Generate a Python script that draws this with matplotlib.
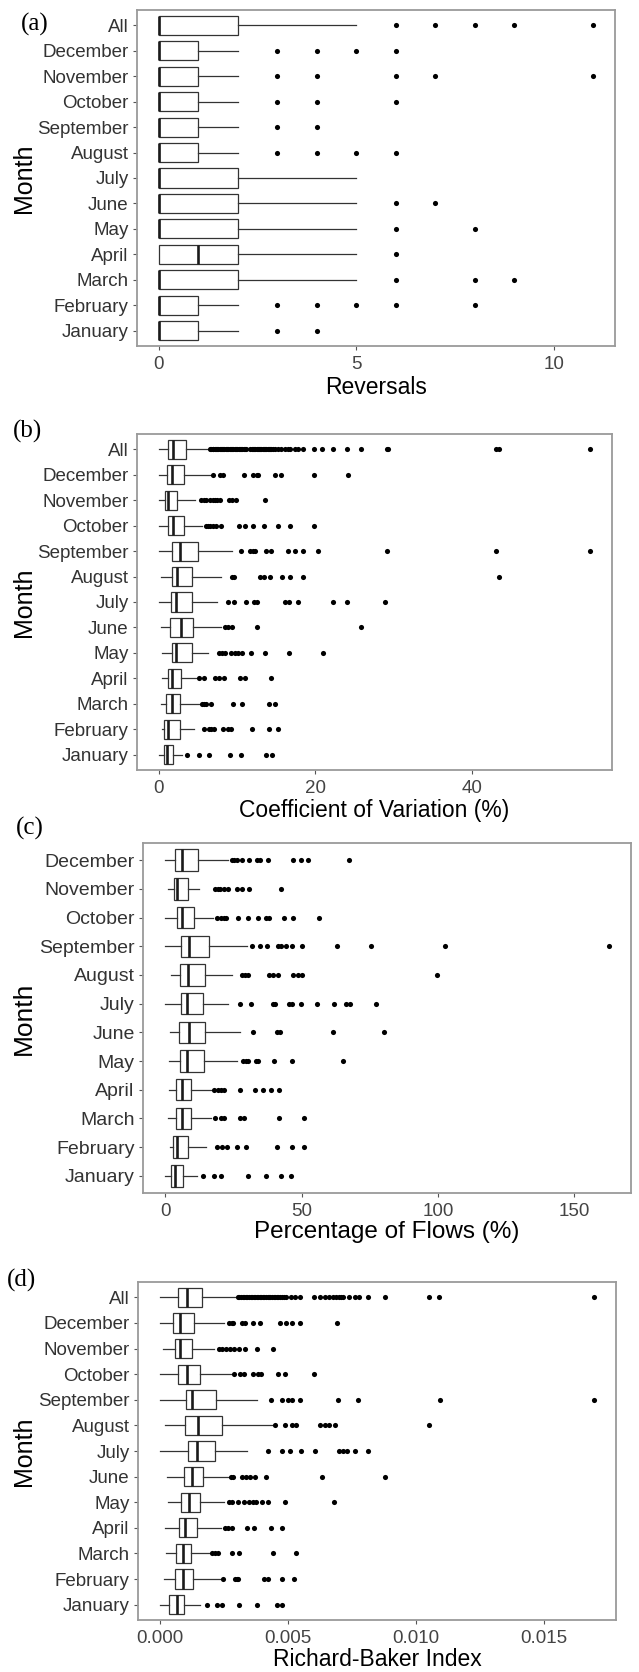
import matplotlib
matplotlib.use("Agg")
import matplotlib.pyplot as plt
import numpy as np

W, H = 639, 1672

months = ["All", "December", "November", "October", "September", "August",
          "July", "June", "May", "April", "March", "February", "January"]
months_c = months[1:]

# (a) Reversals
rev_lo = [0, 0, 0, 0, 0, 0, 0, 0, 0, 0, 0, 0, 0]
rev_q1 = [0, 0, 0, 0, 0, 0, 0, 0, 0, 0, 0, 0, 0]
rev_med = [0, 0, 0, 0, 0, 0, 0, 0, 0, 1, 0, 0, 0]
rev_q3 = [2, 1, 1, 1, 1, 1, 2, 2, 2, 2, 2, 1, 1]
rev_hi = [5, 2, 2, 2, 2, 2, 5, 5, 5, 5, 5, 2, 2]
rev_out = [[6, 7, 8, 9, 11], [3, 4, 5, 6], [3, 4, 6, 7, 11], [3, 4, 6], [3, 4],
           [3, 4, 5, 6], [], [6, 7], [6, 8], [6], [6, 8, 9], [3, 4, 5, 6, 8], [3, 4]]

# (b) Coefficient of Variation (%)
cv_lo = [0, 0, 0.1, 0, 0, 0.35, 0, 0.35, 0.45, 0.45, 0.35, 0.45, 0]
cv_q1 = [1.2, 1.04, 0.8, 1.2, 1.66, 1.66, 1.56, 1.45, 1.66, 1.25, 1.0, 0.75, 0.75]
cv_med = [1.9, 1.66, 1.15, 1.9, 2.7, 2.3, 2.2, 2.8, 2.2, 1.7, 1.66, 1.15, 1.05]
cv_q3 = [3.5, 3.3, 2.4, 3.2, 5.0, 4.2, 4.2, 4.4, 4.2, 2.85, 2.7, 2.7, 1.9]
cv_hi = [6.3, 6.6, 4.6, 5.6, 9.35, 7.9, 7.5, 7.9, 6.3, 4.8, 5.3, 4.5, 3.0]
cv_out = [
    [6.6, 6.75, 6.9, 7.0, 7.15, 7.3, 7.45, 7.6, 7.8, 7.95, 8.1, 8.2, 8.4, 8.55,
     8.75, 8.9, 9.05, 9.25, 9.35, 9.5, 9.7, 9.85, 10.0, 10.2, 10.4, 10.5, 10.7,
     10.9, 11.0, 11.2, 11.7, 11.9, 12.05, 12.2, 12.35, 12.5, 12.7, 12.85, 12.95,
     13.1, 13.3, 13.45, 13.6, 13.75, 13.9, 14.1, 14.25, 14.4, 14.6, 14.9, 15.2,
     15.6, 16.1, 16.5, 16.8, 17.4, 17.8, 18.4, 19.8, 20.9, 22.2, 24.1, 25.8,
     29.1, 29.3, 43.0, 43.4, 55.1],
    [7.0, 7.8, 8.2, 10.9, 12.05, 12.5, 12.7, 14.9, 15.6, 19.8, 24.2],
    [5.4, 5.8, 6.1, 6.5, 6.9, 7.2, 7.5, 7.8, 9.0, 9.35, 9.9, 13.6],
    [6.1, 6.3, 6.6, 6.9, 7.3, 7.9, 10.2, 11.0, 12.05, 13.4, 15.2, 16.8, 19.8],
    [10.5, 11.7, 12.05, 12.3, 13.7, 14.4, 16.5, 17.4, 18.4, 20.3, 29.2, 43.0, 55.1],
    [9.35, 9.6, 12.9, 13.5, 14.2, 15.7, 16.8, 18.4, 43.4],
    [8.8, 9.6, 11.2, 12.2, 12.5, 16.1, 16.6, 17.8, 22.2, 24.1, 28.9],
    [8.5, 8.9, 9.35, 12.6, 25.8],
    [7.7, 8.05, 8.5, 9.25, 9.7, 10.1, 10.7, 11.8, 13.6, 16.7, 21.0],
    [5.2, 5.8, 7.2, 7.7, 8.3, 10.4, 11.0, 14.3],
    [5.6, 5.8, 6.1, 6.75, 9.5, 10.7, 14.1, 14.9],
    [5.8, 6.4, 6.65, 7.1, 8.2, 8.9, 9.3, 11.9, 14.1, 15.2],
    [3.6, 5.1, 6.45, 9.1, 10.5, 13.7, 14.5],
]

# (c) Percentage of Flows (%)
pf_lo = [0, 1.0, 0, 0, 2.2, 0, 1.8, 1.5, 1.5, 1.0, 1.8, 0]
pf_q1 = [3.7, 3.1, 4.2, 5.8, 5.4, 5.8, 4.9, 5.4, 4.0, 4.0, 2.8, 2.2]
pf_med = [6.1, 4.5, 6.25, 8.6, 8.2, 8.0, 8.9, 8.0, 6.0, 6.0, 4.5, 3.7]
pf_q3 = [12.2, 8.2, 10.4, 16.1, 14.7, 13.8, 14.7, 14.4, 9.4, 9.4, 8.2, 6.7]
pf_hi = [23.0, 12.5, 17.5, 30.1, 24.4, 22.9, 27.5, 26.5, 16.8, 16.8, 15.0, 11.6]
pf_out = [
    [24.4, 25.3, 26.3, 28.0, 30.7, 33.6, 34.8, 37.6, 46.9, 49.6, 52.2, 67.4],
    [18.3, 19.2, 20.1, 21.4, 23.2, 26.5, 28.0, 30.7, 42.6],
    [19.0, 20.5, 21.4, 22.3, 26.8, 30.4, 33.9, 37.1, 37.9, 43.6, 47.0, 56.4],
    [31.8, 34.8, 37.2, 41.4, 42.6, 44.3, 46.6, 50.1, 63.1, 75.3, 102.7, 162.6],
    [28.0, 29.2, 30.5, 38.1, 39.6, 41.4, 46.7, 48.5, 50.0, 99.6],
    [27.5, 31.3, 39.6, 40.3, 45.5, 46.3, 49.9, 55.8, 61.9, 66.1, 67.9, 77.1],
    [32.1, 41.1, 42.0, 61.6, 80.1],
    [28.4, 29.5, 30.4, 33.2, 33.9, 39.9, 46.3, 65.2],
    [17.9, 19.3, 20.5, 21.7, 27.5, 33.0, 36.0, 38.8, 41.7],
    [18.3, 20.5, 21.6, 27.5, 29.0, 41.8, 50.9],
    [19.0, 20.8, 22.5, 26.5, 29.6, 40.9, 46.6, 50.9],
    [13.8, 17.9, 20.5, 30.4, 36.9, 42.6, 46.1],
]

# (d) Richard-Baker Index, values in thousandths
rb_lo = [0, 0, 0.13, 0, 0, 0.19, 0, 0.29, 0.32, 0.21, 0.24, 0.16, 0]
rb_q1 = [0.70, 0.51, 0.59, 0.70, 1.03, 0.98, 1.11, 0.94, 0.84, 0.75, 0.63, 0.59, 0.37]
rb_med = [1.06, 0.79, 0.81, 1.08, 1.27, 1.49, 1.46, 1.27, 1.13, 1.0, 0.89, 0.92, 0.67]
rb_q3 = [1.63, 1.35, 1.25, 1.59, 2.19, 2.41, 2.14, 1.68, 1.59, 1.44, 1.22, 1.30, 0.95]
rb_hi = [3.0, 2.5, 2.1, 2.78, 3.81, 4.4, 3.41, 2.7, 2.5, 2.38, 1.98, 2.38, 1.57]
rb_out = [
    [3.06, 3.11, 3.17, 3.24, 3.29, 3.36, 3.41, 3.47, 3.55, 3.6, 3.66, 3.73, 3.78,
     3.85, 3.9, 3.96, 4.03, 4.08, 4.14, 4.21, 4.26, 4.32, 4.39, 4.44, 4.5, 4.57,
     4.62, 4.69, 4.76, 4.84, 4.92, 5.11, 5.27, 5.49, 6.0, 6.27, 6.43, 6.59, 6.75,
     6.86, 6.98, 7.06, 7.14, 7.37, 7.62, 7.78, 8.14, 8.78, 10.5, 10.9, 16.95],
    [2.7, 2.8, 2.86, 3.2, 3.33, 3.62, 3.9, 4.7, 4.92, 5.14, 5.48, 6.92],
    [2.3, 2.43, 2.57, 2.73, 2.89, 3.1, 3.33, 3.81, 4.4],
    [2.89, 3.14, 3.3, 3.65, 3.84, 3.94, 4.62, 4.89, 6.0],
    [4.35, 4.76, 5.0, 5.14, 5.48, 6.97, 7.75, 10.92, 16.95],
    [4.51, 4.87, 5.14, 5.3, 6.27, 6.43, 6.6, 6.83, 10.5],
    [4.24, 4.76, 5.08, 5.52, 6.05, 6.98, 7.14, 7.3, 7.62, 8.13],
    [2.78, 2.86, 3.2, 3.37, 3.52, 3.73, 4.13, 6.33, 8.78],
    [2.7, 2.83, 3.05, 3.3, 3.48, 3.62, 3.75, 4.0, 4.22, 4.9, 6.79],
    [2.54, 2.65, 2.83, 3.41, 3.68, 4.35, 4.76],
    [2.03, 2.14, 2.27, 2.81, 3.11, 4.4, 5.32],
    [2.46, 2.94, 3.02, 3.06, 4.05, 4.21, 4.76, 5.24],
    [1.86, 2.22, 2.41, 3.08, 3.78, 4.57, 4.78],
]
rb_scale = 1e-3

plt.rcParams["font.family"] = ["Liberation Sans", "DejaVu Sans"]

fig = plt.figure(figsize=(W / 100, H / 100), dpi=100)
fig.patch.set_facecolor("white")

BOX_EDGE = "#333333"
TICK_COL = "#333333"


def px_axes(left, right, top, bottom):
    return fig.add_axes([left / W, 1 - bottom / H, (right - left) / W, (bottom - top) / H])


def draw_panel(ax, cats, lo, q1, med, q3, hi, out, ticks, fmt, scale=1.0, ysize=13.5):
    n = len(cats)
    pos = list(range(n - 1, -1, -1))
    stats = []
    for i in range(n):
        stats.append(dict(whislo=lo[i] * scale, q1=q1[i] * scale, med=med[i] * scale,
                          q3=q3[i] * scale, whishi=hi[i] * scale,
                          fliers=np.asarray(out[i], dtype=float) * scale))
    kw = dict(positions=pos, widths=0.75, showcaps=False, patch_artist=True,
              boxprops=dict(facecolor="white", edgecolor=BOX_EDGE, linewidth=0.9),
              medianprops=dict(color="#1a1a1a", linewidth=1.9, solid_capstyle="butt"),
              whiskerprops=dict(color=BOX_EDGE, linewidth=0.9),
              flierprops=dict(marker="o", markerfacecolor="black", markeredgecolor="black",
                              markeredgewidth=0, markersize=3.7))
    try:
        ax.bxp(stats, orientation="horizontal", **kw)
    except TypeError:
        ax.bxp(stats, vert=False, **kw)

    lo_all = min(lo) * scale
    hi_all = max(max(hi), max(max(o) for o in out if len(o))) * scale
    pad = 0.05 * (hi_all - lo_all)
    ax.set_xlim(lo_all - pad, hi_all + pad)
    ax.set_ylim(-0.6, n - 1 + 0.6)
    ax.set_yticks(pos)
    ax.set_yticklabels(cats, fontsize=ysize, color=TICK_COL)
    ax.set_xticks(ticks)
    ax.set_xticklabels([fmt.format(t) for t in ticks], fontsize=13.5, color="#444444")
    ax.tick_params(axis="both", length=3, width=0.8, color="#555555")
    ax.tick_params(axis="x", pad=4)
    ax.tick_params(axis="y", pad=3)
    for sp in ax.spines.values():
        sp.set_color("#9a9a9a")
        sp.set_linewidth(1.3)
    ax.grid(False)


def fig_text(x, y, s, **kw):
    fig.text(x / W, 1 - y / H, s, **kw)


panels = [
    dict(box=(137, 615, 10, 346), cats=months, data=(rev_lo, rev_q1, rev_med, rev_q3, rev_hi, rev_out),
         ticks=[0, 5, 10], fmt="{:g}", scale=1.0, xlabel="Reversals", xl_y=388, tag="(a)",
         tag_xy=(35, 24), ysize=13.5, xsize=16.5, msize=18),
    dict(box=(137, 612, 434, 770), cats=months, data=(cv_lo, cv_q1, cv_med, cv_q3, cv_hi, cv_out),
         ticks=[0, 20, 40], fmt="{:g}", scale=1.0, xlabel="Coefficient of Variation (%)", xl_y=811,
         tag="(b)", tag_xy=(28, 431), ysize=13.5, xsize=16.5, msize=18),
    dict(box=(143, 631, 843, 1193), cats=months_c, data=(pf_lo, pf_q1, pf_med, pf_q3, pf_hi, pf_out),
         ticks=[0, 50, 100, 150], fmt="{:g}", scale=1.0, xlabel="Percentage of Flows (%)", xl_y=1232,
         tag="(c)", tag_xy=(30, 828), ysize=14.0, xsize=17.5, msize=19),
    dict(box=(138, 616, 1282, 1620), cats=months, data=(rb_lo, rb_q1, rb_med, rb_q3, rb_hi, rb_out),
         ticks=[0.0, 0.005, 0.010, 0.015], fmt="{:.3f}", scale=rb_scale, xlabel="Richard-Baker Index",
         xl_y=1660, tag="(d)", tag_xy=(22, 1280), ysize=13.5, xsize=16.5, msize=18),
]

for p in panels:
    l, r, t, b = p["box"]
    ax = px_axes(l, r, t, b)
    draw_panel(ax, p["cats"], *p["data"], ticks=p["ticks"], fmt=p["fmt"],
               scale=p["scale"], ysize=p["ysize"])
    fig_text((l + r) / 2, p["xl_y"], p["xlabel"], ha="center", va="center",
             fontsize=p["xsize"], color="black")
    fig_text(24, (t + b) / 2, "Month", ha="center", va="center", rotation=90,
             fontsize=p["msize"], color="black")
    fig_text(p["tag_xy"][0], p["tag_xy"][1], p["tag"], ha="center", va="center",
             fontsize=18, family=["Liberation Serif", "DejaVu Serif"], color="black")

fig.savefig("out.png", dpi=100, facecolor="white")
